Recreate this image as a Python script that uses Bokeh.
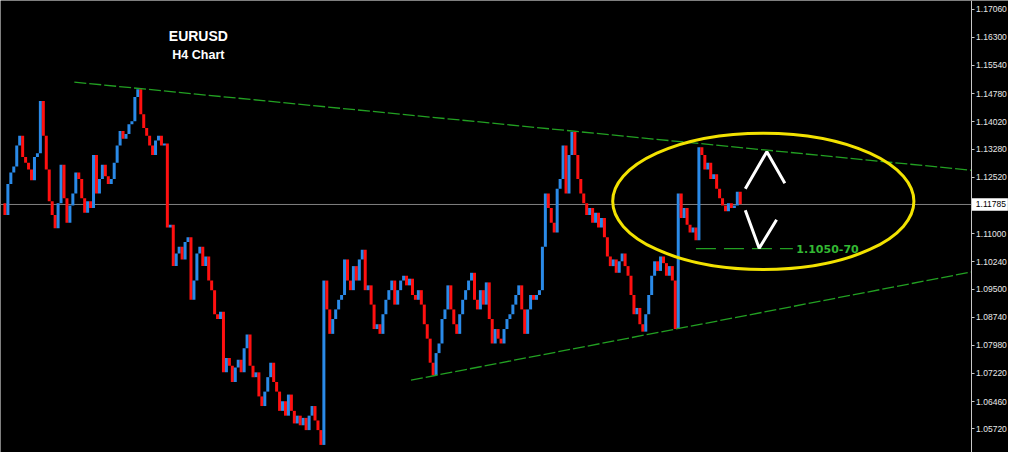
from bokeh.plotting import figure
from bokeh.models import FixedTicker, PrintfTickFormatter, Range1d
from bokeh.embed import file_html
from bokeh.resources import INLINE
from bokeh.core.properties import value

# ---- data (EURUSD, H4 closes) ----
closes = [
    1.1182, 1.1150, 1.1234, 1.1265, 1.1281, 1.1338, 1.1364, 1.1307, 1.1291, 1.1273,
    1.1244, 1.1307, 1.1317, 1.1458, 1.1364, 1.1273, 1.1187, 1.1150, 1.1114, 1.1182,
    1.1286, 1.1195, 1.1129, 1.1176, 1.1208, 1.1265, 1.1247, 1.1195, 1.1156, 1.1187,
    1.1169, 1.1312, 1.1208, 1.1247, 1.1286, 1.1255, 1.1234, 1.1247, 1.1291, 1.1338,
    1.1377, 1.1356, 1.1369, 1.1395, 1.1403, 1.1469, 1.1490, 1.1422, 1.1385, 1.1364,
    1.1338, 1.1312, 1.1351, 1.1364, 1.1338, 1.1343, 1.1116, 1.1124, 1.1012, 1.1046,
    1.1064, 1.1030, 1.1077, 1.1090, 1.0921, 1.0973, 1.1046, 1.1064, 1.1012, 1.1038,
    1.0973, 1.0947, 1.0882, 1.0869, 1.0889, 1.0725, 1.0764, 1.0743, 1.0699, 1.0738,
    1.0759, 1.0725, 1.0790, 1.0827, 1.0743, 1.0712, 1.0725, 1.0660, 1.0634, 1.0673,
    1.0712, 1.0751, 1.0699, 1.0673, 1.0621, 1.0647, 1.0608, 1.0665, 1.0621, 1.0587,
    1.0608, 1.0582, 1.0602, 1.0569, 1.0608, 1.0634, 1.0595, 1.0569, 1.0529, 1.0973,
    1.0895, 1.0829, 1.0869, 1.0895, 1.0921, 1.0934, 1.1030, 1.0973, 1.0947, 1.1012,
    1.0973, 1.1030, 1.1056, 1.0947, 1.0960, 1.0908, 1.0842, 1.0855, 1.0829, 1.0882,
    1.0921, 1.0947, 1.0973, 1.0908, 1.0947, 1.0973, 1.0986, 1.0960, 1.0978, 1.0934,
    1.0921, 1.0947, 1.0908, 1.0855, 1.0816, 1.0751, 1.0717, 1.0777, 1.0803, 1.0869,
    1.0895, 1.0960, 1.0895, 1.0855, 1.0829, 1.0882, 1.0921, 1.0947, 1.0973, 1.0994,
    1.0921, 1.0895, 1.0947, 1.0908, 1.0968, 1.0869, 1.0803, 1.0842, 1.0816, 1.0803,
    1.0842, 1.0869, 1.0882, 1.0908, 1.0934, 1.0960, 1.0895, 1.0829, 1.0895, 1.0934,
    1.0921, 1.0934, 1.0947, 1.1064, 1.1208, 1.1169, 1.1129, 1.1103, 1.1221, 1.1247,
    1.1338, 1.1208, 1.1312, 1.1375, 1.1312, 1.1247, 1.1208, 1.1182, 1.1150, 1.1169,
    1.1129, 1.1156, 1.1116, 1.1142, 1.1090, 1.1038, 1.1012, 1.1030, 1.0994, 1.1025,
    1.1046, 1.1012, 1.0986, 1.0934, 1.0882, 1.0899, 1.0855, 1.0835, 1.0882, 1.0934,
    1.0986, 1.1025, 1.0999, 1.1038, 1.1020, 1.0986, 1.1012, 1.0973, 1.0842, 1.1208,
    1.1142, 1.1169, 1.1124, 1.1103, 1.1116, 1.1082, 1.1333, 1.1312, 1.1273, 1.1291,
    1.1247, 1.1260, 1.1221, 1.1195, 1.1176, 1.1160, 1.1182, 1.1169, 1.1176, 1.1213, 1.1179,
]

tick_labels = [1.17060, 1.16300, 1.15540, 1.14780, 1.14020, 1.13280, 1.12520,
               1.11000, 1.10240, 1.09500, 1.08740, 1.07980, 1.07220, 1.06460, 1.05720]
current_price = 1.11785
title_text = "EURUSD"
subtitle_text = "H4 Chart"

# annotations (bar index, price)
upper_trend_bars = [24.5, 328.2]
upper_trend_prices = [1.1509, 1.1271]
lower_trend_bars = [138.5, 328.2]
lower_trend_prices = [1.0704, 1.0996]
target_bars = [235.0, 267.8]
target_level = 1.1059
target_label = "1.1050-70"
up_path_bars = [251.7, 259.0, 265.1]
up_path_prices = [1.1221, 1.1321, 1.1236]
down_path_bars = [251.7, 256.4, 262.3]
down_path_prices = [1.1163, 1.1060, 1.1137]
zone_center = (257.8, 1.1187)
zone_size = (102.0, 0.0368)

# chart window (bar index / price)
x_start, axis_x, x_end = -0.5, 328.17, 340.83
y_low, y_high = 1.05085, 1.17295
tag_half = 0.0017

# ---- derived bar table ----
idx = list(range(len(closes)))
opens = [closes[0]] + closes[:-1]
colors = ["#2a8ae8" if c >= o else "#ff1010" for o, c in zip(opens, closes)]

p = figure(width=1008, height=452,
           x_range=Range1d(x_start, x_end), y_range=Range1d(y_low, y_high),
           output_backend="svg", toolbar_location=None,
           y_axis_location="right", x_axis_location=None,
           background_fill_color="black", border_fill_color="black",
           outline_line_color=None, min_border=0)
p.grid.visible = False

ax = p.yaxis[0]
ax.fixed_location = axis_x
ax.ticker = FixedTicker(ticks=tick_labels)
ax.formatter = PrintfTickFormatter(format="%.5f")
ax.axis_line_color = "#c8c8c8"
ax.major_tick_line_color = "#c8c8c8"
ax.major_tick_out = 3
ax.major_tick_in = 0
ax.minor_tick_out = 0
ax.minor_tick_in = 0
ax.major_label_text_color = "#e8e8e8"
ax.major_label_text_font = "Liberation Sans"
ax.major_label_text_font_size = "8.5px"
ax.major_label_standoff = 2

# current price line
p.segment(x0=[x_start], y0=[current_price], x1=[axis_x], y1=[current_price],
          line_color="#808080", line_width=1)

# bars
p.segment(x0=idx, y0=opens, x1=idx, y1=closes, line_color=colors, line_width=3)

# trend lines
p.line(upper_trend_bars, upper_trend_prices, line_color="#22a022",
       line_width=1.3, line_dash="12 3")
p.line(lower_trend_bars, lower_trend_prices, line_color="#22a022",
       line_width=1.3, line_dash="12 3")
p.line(target_bars, [target_level, target_level], line_color="#22a022",
       line_width=1.3, line_dash="20 8")
p.text(x=[target_bars[1] + 1.2], y=[target_level], text=[target_label],
       text_color="#33b833", text_font=value("DejaVu Sans"),
       text_font_style="bold", text_font_size="11px",
       text_align="left", text_baseline="middle")

# zone and scenario arrows
p.ellipse(x=[zone_center[0]], y=[zone_center[1]], width=zone_size[0],
          height=zone_size[1], fill_color=None, line_color="#f2e200", line_width=3)
p.line(up_path_bars, up_path_prices, line_color="white", line_width=3)
p.line(down_path_bars, down_path_prices, line_color="white", line_width=3)

# titles
p.text(x=[66.5], y=[1.1633], text=[title_text], text_color="white",
       text_font=value("Liberation Sans"), text_font_style="bold",
       text_font_size="14px", text_align="center", text_baseline="middle")
p.text(x=[66.5], y=[1.1581], text=[subtitle_text], text_color="white",
       text_font=value("Liberation Sans"), text_font_style="bold",
       text_font_size="12.5px", text_align="center", text_baseline="middle")

# current price tag on the axis
p.quad(left=[axis_x + 0.3], right=[x_end - 0.2],
       bottom=[current_price - tag_half], top=[current_price + tag_half],
       fill_color="white", line_color=None, level="overlay")
p.text(x=[axis_x + 1.6], y=[current_price], text=["%.5f" % current_price],
       text_color="black", text_font=value("Liberation Sans"),
       text_font_size="8.5px", text_align="left", text_baseline="middle",
       level="overlay")

open("out.html", "w").write(file_html(p, INLINE))
